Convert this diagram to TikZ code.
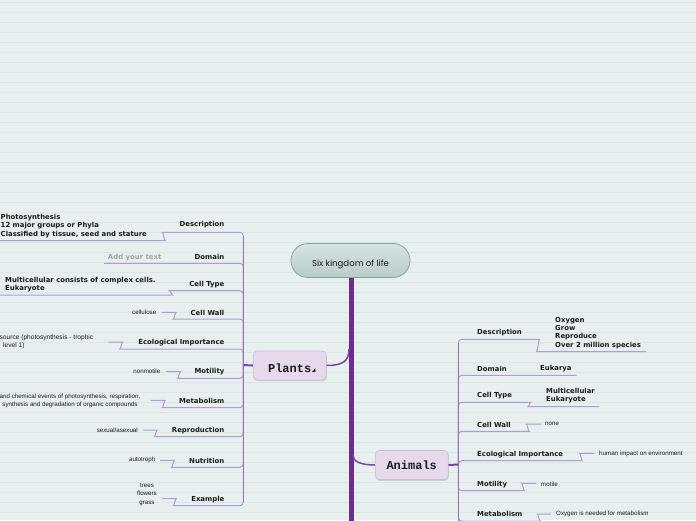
\documentclass[tikz,border=0pt]{standalone}
\usepackage{fontspec}
\newfontfamily\lblfont{DejaVu Sans}
\newfontfamily\smfont{Liberation Sans}
\newfontfamily\monofnt{Liberation Mono}
\newfontfamily\rootfnt{Poppins}
\usetikzlibrary{shadows}
\definecolor{bgc}{HTML}{E8F0EF}
\definecolor{bglc}{HTML}{DCE6E5}
\definecolor{trunkc}{HTML}{6C2D91}
\definecolor{hubc}{HTML}{7E45A6}
\definecolor{vlc}{HTML}{9A72BE}
\definecolor{ulc}{HTML}{B59BD3}
\definecolor{kfill}{HTML}{E5D9EB}
\definecolor{kdraw}{HTML}{CDBED6}
\definecolor{rtop}{HTML}{D6E3E1}
\definecolor{rbot}{HTML}{B9CCCA}
\definecolor{rdraw}{HTML}{80A7A3}
\definecolor{txtc}{HTML}{1A1A1A}
\definecolor{greyc}{HTML}{A3A3A3}
\begin{document}
\begin{tikzpicture}[x=1pt,y=-1pt,
  lbl/.style={font=\lblfont\bfseries\fontsize{6.9}{8.3}\selectfont, inner sep=0pt, text=txtc},
  sm/.style={font=\smfont\fontsize{6.2}{8.6}\selectfont, inner sep=0pt, text=txtc},
  kingdom/.style={rounded corners=4pt, fill=kfill, draw=kdraw, line width=0.6pt,
    minimum width=73pt, minimum height=29pt, inner sep=2pt,
    drop shadow={opacity=0.25, shadow xshift=0.6pt, shadow yshift=-1.3pt},
    font=\monofnt\bfseries\fontsize{12}{14}\selectfont, text=txtc},
  rootbox/.style={rounded corners=17pt, top color=rtop, bottom color=rbot, draw=rdraw,
    line width=0.8pt, minimum width=119pt, minimum height=34pt, inner sep=0pt,
    font=\rootfnt\fontsize{8.6}{10}\selectfont, text=txtc},
  ul/.style={draw=ulc, line width=1pt, rounded corners=3.5pt},
  vl/.style={draw=vlc, line width=1.3pt},
  conn/.style={draw=hubc, line width=1.5pt},
  hubl/.style={draw=hubc, line width=2pt},
  trunk/.style={draw=trunkc, line width=5pt},
  bgl/.style={draw=bglc, line width=0.8pt}]
\fill[bgc] (0,0) rectangle (696,520);
\useasboundingbox (0,0) rectangle (696,520);
\clip (0,0) rectangle (696,520);
\foreach \k in {0,...,51} \draw[bgl] (0,2.7+10*\k) -- (696,2.7+10*\k);

% root and trunk
\node[rootbox, text height=13.4pt, text depth=2.3pt] (root) at (350.5,260.5) {Six kingdom of life};
\coordinate (trunkend) at (351,530);
\draw[trunk] (root.south -| trunkend) -- (trunkend);

% kingdoms
\node[kingdom, text height=14pt, text depth=0pt] (plants) at (289.7,365.5) {Plants};
\fill[txtc] (312,371.8) -- (315.3,371.8) -- (315.3,368.4) -- cycle;
\node[kingdom] (animals) at (411.7,465) {Animals};
\draw[conn] (plants.east) .. controls (343,365.5) and (349,361) .. (349,349);
\draw[conn] (353,455) .. controls (353,461) and (359,464.8) .. (animals.west);

\coordinate (pl-hub) at (243.3,365);
\coordinate (an-hub) at (458.3,464.5);

% ---------- Plants branches ----------
\draw[ul] (pl-hub) |- (165.7,232.3) .. controls (163.2,232.3) and (164.2,240.7) .. (161.7,240.7) -- (-2,240.7);
\draw[ul] (pl-hub) |- (104,263.3);
\draw[ul] (pl-hub) |- (173,290.7) .. controls (170.5,290.7) and (171.5,295) .. (169,295) -- (-2,295);
\draw[ul] (pl-hub) |- (176.7,319) .. controls (174.2,319) and (175.2,312.3) .. (172.7,312.3) -- (161.7,312.3);
\draw[ul] (pl-hub) |- (123.3,349) .. controls (120.8,349) and (121.8,342) .. (119.3,342) -- (108.3,342);
\draw[ul] (pl-hub) |- (181,378.3) .. controls (178.5,378.3) and (179.5,371.7) .. (177,371.7) -- (166,371.7);
\draw[ul] (pl-hub) |- (165.7,407.7) .. controls (163.2,407.7) and (164.2,400.3) .. (161.7,400.3) -- (150.7,400.3);
\draw[ul] (pl-hub) |- (157.7,436.7) .. controls (155.2,436.7) and (156.2,430) .. (153.7,430) -- (143.3,430);
\draw[ul] (pl-hub) |- (175,467.3) .. controls (172.5,467.3) and (173.5,460.3) .. (171,460.3) -- (160,460.3);
\draw[ul] (pl-hub) |- (176.7,505.7) .. controls (174.2,505.7) and (175.2,498.7) .. (172.7,498.7) -- (162.3,498.7);
\draw[vl] (243.3,236) -- (243.3,502);
\draw[hubl] (plants.west) -- (pl-hub);

\node[lbl, anchor=east] (pl-desc) at (224.5,225) {Description};
\node[lbl, anchor=east] (pl-dom) at (224.5,257.3) {Domain};
\node[lbl, anchor=east] (pl-cell) at (224.5,284.3) {Cell Type};
\node[lbl, anchor=east] (pl-wall) at (224.5,312.7) {Cell Wall};
\node[lbl, anchor=east] (pl-eco) at (224.5,342.7) {Ecological Importance};
\node[lbl, anchor=east] (pl-mot) at (224.5,371.7) {Motility};
\node[lbl, anchor=east] (pl-met) at (224.5,401.3) {Metabolism};
\node[lbl, anchor=east] (pl-rep) at (224.5,430.3) {Reproduction};
\node[lbl, anchor=east] (pl-nut) at (224.5,460.7) {Nutrition};
\node[lbl, anchor=east] (pl-ex) at (224.5,499.3) {Example};

\node[lbl, anchor=west, align=left, font=\lblfont\bfseries\fontsize{6.9}{8.5}\selectfont] (pl-desc-c) at (0.5,225.8) {Photosynthesis\\12 major groups or Phyla\\Classified by tissue, seed and stature};
\node[lbl, anchor=east, text=greyc] (pl-dom-c) at (161.5,257.3) {Add your text};
\node[lbl, anchor=west, align=left, font=\lblfont\bfseries\fontsize{6.9}{8}\selectfont] (pl-cell-c) at (5,284.7) {Multicellular consists of complex cells.\\Eukaryote};
\node[sm, anchor=east] (pl-wall-c) at (156.5,312.3) {cellulose};
\node[sm, anchor=west, align=left, font=\smfont\fontsize{6.6}{8.7}\selectfont] (pl-eco-c) at (-0.5,341.7) {source (photosynthesis - trophic\\\hspace*{3.5pt}level 1)};
\node[sm, anchor=east] (pl-mot-c) at (160.5,371.7) {nonmotile};
\node[sm, align=center] (pl-met-c) at (70,401) {and chemical events of photosynthesis, respiration,\\synthesis and degradation of organic compounds};
\node[sm, anchor=east] (pl-rep-c) at (138,430) {sexual/asexual};
\node[sm, anchor=east] (pl-nut-c) at (155.5,460.3) {autotroph};
\node[sm, align=center, font=\smfont\fontsize{6.2}{8.8}\selectfont] (pl-ex-c) at (147,494.5) {trees\\flowers\\grass};

% ---------- Animals branches ----------
\draw[ul] (an-hub) |- (536,339.3) .. controls (538.5,339.3) and (537.5,351.7) .. (540,351.7) -- (646,351.7);
\draw[ul] (an-hub) |- (576.7,375.3);
\draw[ul] (an-hub) |- (527.3,402.3) .. controls (529.8,402.3) and (528.8,406.7) .. (531.3,406.7) -- (599.3,406.7);
\draw[ul] (an-hub) |- (525.7,431.3) .. controls (528.2,431.3) and (527.2,424) .. (529.7,424) -- (541,424);
\draw[ul] (an-hub) |- (579,460.7) .. controls (581.5,460.7) and (580.5,453.3) .. (583,453.3) -- (594,453.3);
\draw[ul] (an-hub) |- (521,490.7) .. controls (523.5,490.7) and (522.5,483.3) .. (525,483.3) -- (536,483.3);
\draw[ul] (an-hub) |- (536.7,521) .. controls (539.2,521) and (538.2,514) .. (540.7,514) -- (551,514);
\draw[vl] (458.3,343) -- (458.3,530);
\draw[hubl] (animals.east) -- (an-hub);

\node[lbl, anchor=west] (an-desc) at (477,332.7) {Description};
\node[lbl, anchor=west] (an-dom) at (477,368.7) {Domain};
\node[lbl, anchor=west] (an-cell) at (477,395.7) {Cell Type};
\node[lbl, anchor=west] (an-wall) at (477,424.7) {Cell Wall};
\node[lbl, anchor=west] (an-eco) at (477,454.3) {Ecological Importance};
\node[lbl, anchor=west] (an-mot) at (477,484.3) {Motility};
\node[lbl, anchor=west] (an-met) at (477,514.3) {Metabolism};

\node[lbl, anchor=west, align=left, font=\lblfont\bfseries\fontsize{6.9}{8.2}\selectfont] (an-desc-c) at (555,333) {Oxygen\\Grow\\Reproduce\\Over 2 million species};
\node[lbl, anchor=west] (an-dom-c) at (540,368.7) {Eukarya};
\node[lbl, anchor=west, align=left, font=\lblfont\bfseries\fontsize{6.9}{8.6}\selectfont] (an-cell-c) at (546,395.5) {Multicellular\\Eukaryote};
\node[sm, anchor=west] (an-wall-c) at (545,424.3) {none};
\node[sm, anchor=west] (an-eco-c) at (599,453.5) {human impact on environment};
\node[sm, anchor=west] (an-mot-c) at (541,484) {motile};
\node[sm, anchor=west] (an-met-c) at (556,514) {Oxygen is needed for metabolism};
\end{tikzpicture}
\end{document}
